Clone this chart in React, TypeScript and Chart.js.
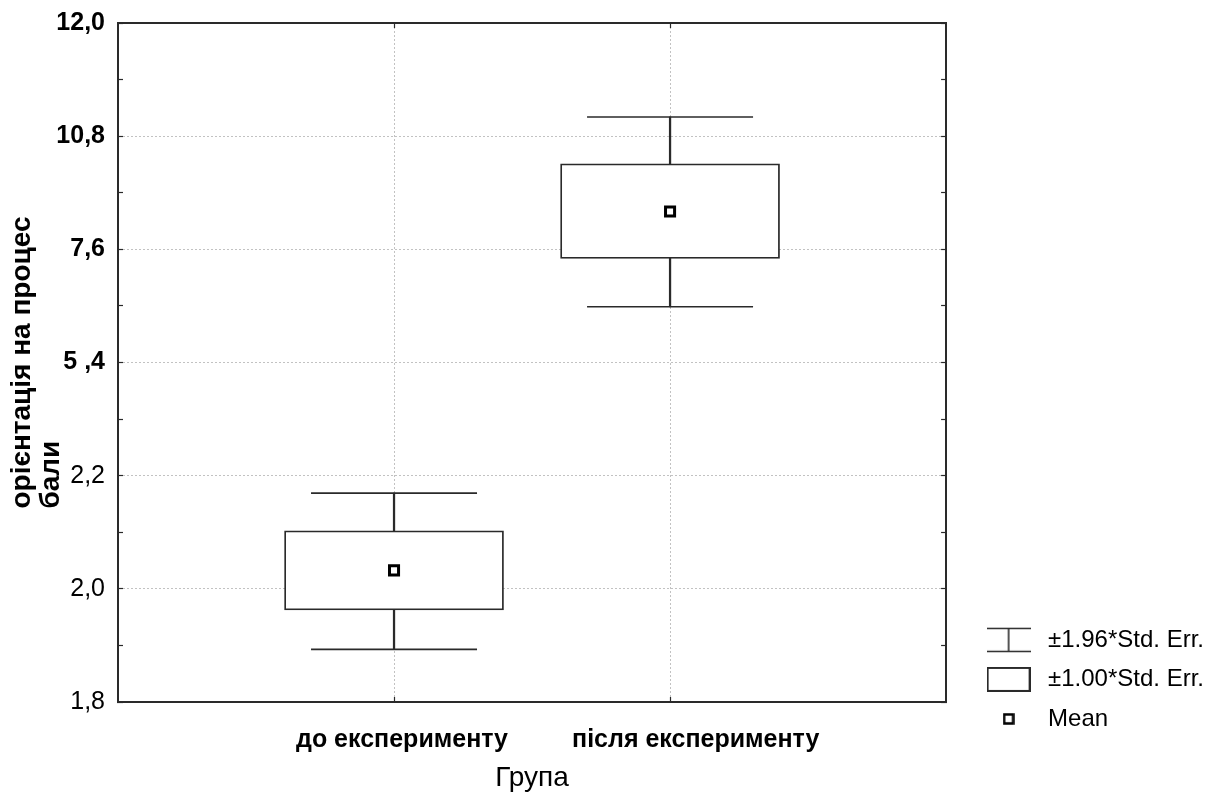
import React, { useEffect, useRef } from 'react';
import Chart from 'chart.js/auto';

// Дані графіка (значення в одиницях осі: 0..6 — позиції підписів шкали)
const groups = ['до експерименту', 'після експерименту'];
const groupPos = [1, 2];
const yTickLabels = ['1,8', '2,0', '2,2', '5 ,4', '7,6', '10,8', '12,0'];
const whiskerLow = [0.465, 3.492];
const boxLow = [0.813, 3.919];
const means = [1.163, 4.334];
const boxHigh = [1.513, 4.755];
const whiskerHigh = [1.846, 5.17];
const legendLabels = ['±1.96*Std. Err.', '±1.00*Std. Err.', 'Mean'];
const yTitleLines = ['орієнтація на процес', 'бали'];
const xTitle = 'Група';

const FONT = "'Liberation Sans', Arial, sans-serif";
const LINE = '#2a2a2a';
const GRID = '#c2c2c2';

// маленькі картинки для легенди
const makeIcon = (w: number, h: number, draw: (g: CanvasRenderingContext2D) => void) => {
  const c = document.createElement('canvas');
  c.width = w;
  c.height = h;
  const g = c.getContext('2d');
  if (g) draw(g);
  return c;
};

// підпис осі Y: два рядки, другий вирівняно по початку першого
const yTitlePlugin = {
  id: 'yTitle',
  afterDraw(chart: any) {
    const { ctx, chartArea } = chart;
    ctx.save();
    ctx.font = `bold 28px ${FONT}`;
    const w = ctx.measureText(yTitleLines[0]).width;
    const start = (chartArea.top + chartArea.bottom) / 2 + w / 2;
    ctx.translate(0, start);
    ctx.rotate(-Math.PI / 2);
    ctx.fillStyle = '#000';
    ctx.textAlign = 'left';
    ctx.textBaseline = 'alphabetic';
    yTitleLines.forEach((t, i) => ctx.fillText(t, 0, 29.5 + i * 29.5));
    ctx.restore();
  }
};

const App: React.FC = () => {
  const chartRef = useRef<HTMLCanvasElement>(null);
  const chartInstance = useRef<Chart | null>(null);

  useEffect(() => {
    if (!chartRef.current) return;

    const whiskerIcon = makeIcon(44, 26, g => {
      g.strokeStyle = LINE;
      g.lineWidth = 1.6;
      g.beginPath();
      g.moveTo(0, 1.5); g.lineTo(44, 1.5);
      g.moveTo(0, 24.5); g.lineTo(44, 24.5);
      g.moveTo(22, 1.5); g.lineTo(22, 24.5);
      g.stroke();
    });
    const boxIcon = makeIcon(44, 25, g => {
      g.strokeStyle = LINE;
      g.lineWidth = 2;
      g.strokeRect(1, 1, 42, 23);
    });
    const meanIcon = makeIcon(12, 12, g => {
      g.strokeStyle = '#000';
      g.lineWidth = 2.5;
      g.strokeRect(1.5, 1.5, 9, 9);
    });
    const blankIcon = makeIcon(1, 1, () => {});
    const icons = [whiskerIcon, boxIcon, meanIcon];

    if (chartInstance.current) {
      chartInstance.current.destroy();
    }

    const groupTicks = (s: any) => {
      s.ticks = groupPos.map(v => ({ value: v }));
    };

    chartInstance.current = new Chart(chartRef.current, {
      type: 'bar',
      data: {
        datasets: [
          {
            type: 'scatter',
            label: 'Mean',
            data: groupPos.map((x, i) => ({ x, y: means[i] })),
            pointStyle: 'rect',
            pointRadius: 6.4,
            pointBorderWidth: 3,
            pointBorderColor: '#000',
            pointBackgroundColor: '#fff',
            order: 1
          },
          {
            type: 'scatter',
            label: 'caps',
            data: [
              ...groupPos.map((x, i) => ({ x, y: whiskerHigh[i] })),
              ...groupPos.map((x, i) => ({ x, y: whiskerLow[i] }))
            ],
            pointStyle: 'line',
            pointRadius: 83,
            pointBorderWidth: 1.6,
            pointBorderColor: LINE,
            order: 2
          },
          {
            type: 'bar',
            label: 'box',
            data: groupPos.map((x, i) => ({ x, y: [boxLow[i], boxHigh[i]] })),
            backgroundColor: '#fff',
            borderColor: LINE,
            borderWidth: 1.8,
            borderSkipped: false,
            barThickness: 219,
            grouped: false,
            order: 3
          },
          {
            type: 'bar',
            label: 'whisker',
            data: groupPos.map((x, i) => ({ x, y: [whiskerLow[i], whiskerHigh[i]] })),
            backgroundColor: LINE,
            borderWidth: 0,
            barThickness: 1.6,
            grouped: false,
            order: 4
          }
        ] as any
      },
      options: {
        animation: false,
        responsive: true,
        maintainAspectRatio: false,
        events: [],
        layout: { autoPadding: false, padding: { top: 23, right: 8, left: 0, bottom: 0 } },
        scales: {
          x: {
            type: 'linear',
            position: 'bottom',
            min: 0,
            max: 3,
            offset: false,
            afterBuildTicks: groupTicks,
            afterFit: (s: any) => { s.height = 94; },
            grid: { offset: false, color: GRID, lineWidth: 1, tickLength: -5, tickColor: LINE, tickWidth: 1.2 },
            border: { color: LINE, width: 2, dash: [2, 2] },
            ticks: {
              autoSkip: false,
              maxRotation: 0,
              align: 'start',
              labelOffset: -98,
              padding: 28,
              color: '#000',
              font: { size: 25, weight: 'bold', family: FONT },
              callback: (v: any) => groups[groupPos.indexOf(Number(v))] ?? ''
            },
            title: {
              display: true,
              text: xTitle,
              color: '#000',
              font: { size: 28, family: FONT },
              padding: { top: 0, bottom: 1 }
            }
          },
          x2: {
            type: 'linear',
            position: 'top',
            min: 0,
            max: 3,
            offset: false,
            afterBuildTicks: groupTicks,
            afterFit: (s: any) => { s.height = 0; },
            grid: { offset: false, drawOnChartArea: false, tickLength: -5, tickColor: LINE, tickWidth: 1.2 },
            border: { color: LINE, width: 2 },
            ticks: { display: false }
          },
          y: {
            type: 'linear',
            position: 'left',
            min: 0,
            max: 6,
            afterFit: (s: any) => {
              s.width = 118;
              s.paddingTop = 0;
              s.paddingBottom = 0;
            },
            grid: {
              color: (c: any) => {
                const v = c.tick ? c.tick.value : 0.5;
                return Number.isInteger(v) && v > 0 && v < 6 ? GRID : 'transparent';
              },
              lineWidth: 1,
              tickLength: -5,
              tickColor: LINE,
              tickWidth: 1.2
            },
            border: { color: LINE, width: 2, dash: [2, 2] },
            ticks: {
              stepSize: 0.5,
              autoSkip: false,
              padding: 18,
              color: '#000',
              font: (c: any) => ({
                size: 25,
                family: FONT,
                weight: c.tick && c.tick.value >= 3 ? 'bold' : 'normal'
              }),
              callback: (v: any) => (Number.isInteger(Number(v)) ? yTickLabels[Number(v)] : '')
            }
          },
          y2: {
            type: 'linear',
            position: 'right',
            min: 0,
            max: 6,
            afterFit: (s: any) => { s.width = 19.5; },
            grid: { drawOnChartArea: false, tickLength: -5, tickColor: LINE, tickWidth: 1.2 },
            border: { color: LINE, width: 2 },
            ticks: { display: false, stepSize: 0.5 }
          }
        },
        plugins: {
          tooltip: { enabled: false },
          legend: {
            position: 'right',
            align: 'end',
            maxWidth: 320,
            onClick: () => {},
            labels: {
              usePointStyle: true,
              pointStyleWidth: 55,
              padding: 15.5,
              color: '#000',
              font: { size: 24, lineHeight: 1.42, family: FONT },
              generateLabels: () => [
                ...legendLabels.map((text, i) => ({
                  text,
                  pointStyle: icons[i],
                  fillStyle: '#fff',
                  strokeStyle: LINE,
                  lineWidth: 0,
                  hidden: false
                })),
                // пустий рядок, щоб підняти легенду над нижнім краєм
                { text: [''], pointStyle: blankIcon, fillStyle: '#fff', strokeStyle: '#fff', lineWidth: 0, hidden: false }
              ] as any
            }
          }
        }
      } as any,
      plugins: [yTitlePlugin]
    });

    return () => {
      if (chartInstance.current) {
        chartInstance.current.destroy();
        chartInstance.current = null;
      }
    };
  }, []);

  return (
    <div style={{ position: 'fixed', left: 0, top: 0, width: 1222, height: 796, background: '#fff' }}>
      <canvas ref={chartRef}></canvas>
    </div>
  );
};

export default App;
